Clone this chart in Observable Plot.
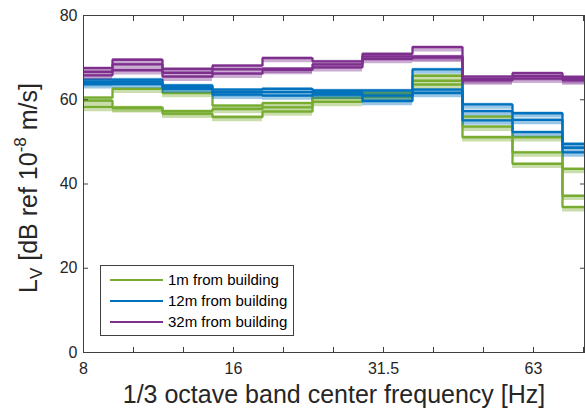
<!DOCTYPE html>
<html>
<head>
<meta charset="utf-8">
<script src="https://cdn.jsdelivr.net/npm/d3@7"></script>
<script src="https://cdn.jsdelivr.net/npm/@observablehq/plot@0.6"></script>
<style>
  body { margin: 0; background: #fff; }
  #wrap { position: relative; width: 585px; height: 418px; font-family: "Liberation Sans", Arial, sans-serif; color: #262626; }
  #ylabel { position: absolute; left: 28px; top: 188px; transform: translate(-50%, -50%) rotate(-90deg); white-space: nowrap; font-size: 25px; line-height: 1; }
  #ylabel sub { font-size: 68%; vertical-align: baseline; position: relative; top: 0.3em; }
  #ylabel sup { font-size: 68%; vertical-align: baseline; position: relative; top: -0.62em; }
  #legend { position: absolute; left: 100px; top: 265px; width: 192px; height: 69px; border: 1px solid #404040; background: #fff; font-size: 15px; color: #000; }
  .lg { position: absolute; left: 9px; width: 53px; height: 2px; }
  .lt { position: absolute; left: 67px; line-height: 1; }
</style>
</head>
<body>
<div id="wrap">
  <div id="chart"></div>
  <div id="ylabel">L<sub>V</sub> [dB ref 10<sup>-8</sup> m/s]</div>
  <div id="legend"></div>
</div>
<script>
// 1/3 octave band centre frequencies (tick labels)
const bandLabels = ["8", "10", "12.5", "16", "20", "25", "31.5", "40", "50", "63", "80"];
const labeledBands = ["8", "16", "31.5", "63"];
const yTicks = [0, 20, 40, 60, 80];
const seriesNames = ["1m from building", "12m from building", "32m from building"];
const xTitle = "1/3 octave band center frequency [Hz]";

// 1 m from building (three measurement lines)
const m1A = [60.5, 62.6, 61.6, 58.6, 59.2, 61.8, 61.6, 65.7, 56.0, 51.1, 43.6];
const m1B = [59.8, 58.0, 57.3, 57.8, 58.2, 60.4, 61.1, 64.5, 53.6, 47.5, 37.2];
const m1C = [58.3, 58.2, 56.7, 55.9, 57.2, 59.5, 60.7, 63.6, 51.1, 44.8, 34.5];
// 12 m from building
const m12A = [64.8, 64.8, 63.4, 62.4, 62.6, 62.2, 62.2, 67.2, 58.9, 56.8, 49.5];
const m12B = [64.2, 64.3, 63.0, 61.8, 61.8, 61.7, 61.0, 61.6, 57.3, 55.2, 48.6];
const m12C = [63.7, 63.8, 62.6, 61.2, 61.0, 61.2, 59.7, 62.4, 55.1, 52.3, 47.5];
// 32 m from building
const m32A = [67.5, 69.5, 67.3, 68.1, 69.9, 69.1, 70.9, 72.5, 65.5, 66.3, 65.4];
const m32B = [66.6, 68.4, 66.4, 67.2, 67.4, 68.4, 70.3, 70.3, 64.9, 65.6, 64.9];
const m32C = [65.8, 67.0, 65.5, 66.2, 67.1, 67.7, 69.7, 70.0, 64.6, 65.0, 64.6];

const colors = ["#77AC30", "#0072BD", "#7E2F8E"];
const seriesData = [[m1A, m1B, m1C], [m12A, m12B, m12C], [m32A, m32B, m32C]];

const lo = -0.42, hi = 0.58; // band edges relative to band index
const idx = d3.range(bandLabels.length);

const marks = [];
seriesData.forEach((lines, k) => {
  // light (translucent) band segments
  const seg = [];
  lines.forEach(arr => arr.forEach((v, i) => seg.push({x1: i + lo, x2: i + hi, v})));
  marks.push(Plot.ruleY(seg, {y: "v", x1: "x1", x2: "x2", stroke: colors[k], strokeOpacity: 0.4, strokeWidth: 6, dy: 1.3, clip: true}));
  // dark step lines
  const rows = [];
  lines.forEach((arr, j) => {
    arr.forEach((v, i) => rows.push({key: j, x: i + lo, y: v}));
    rows.push({key: j, x: arr.length - 1 + hi, y: arr[arr.length - 1]});
  });
  marks.push(Plot.line(rows, {x: "x", y: "y", z: "key", stroke: colors[k], strokeWidth: 2.3, curve: "step-after", strokeLinejoin: "miter", strokeLinecap: "butt", clip: true}));
});

marks.push(
  Plot.frame({stroke: "#404040", strokeWidth: 1}),
  Plot.axisX(idx, {anchor: "bottom", tickSize: -5, tickPadding: 15, fontSize: 16, fill: "#262626", stroke: "#404040",
    tickFormat: i => labeledBands.includes(bandLabels[i]) ? bandLabels[i] : ""}),
  Plot.axisX(idx, {anchor: "top", tickSize: -5, stroke: "#404040", tickFormat: () => ""}),
  Plot.axisY(yTicks, {anchor: "left", tickSize: -5, tickPadding: 11, fontSize: 16, fill: "#262626", stroke: "#404040"}),
  Plot.axisY(yTicks, {anchor: "right", tickSize: -5, stroke: "#404040", tickFormat: () => ""}),
  Plot.text([xTitle], {frameAnchor: "bottom", dy: 50, fontSize: 25, fill: "#262626", text: d => d})
);

const chart = Plot.plot({
  width: 585,
  height: 418,
  marginLeft: 83,
  marginRight: 1,
  marginTop: 15,
  marginBottom: 66,
  x: {type: "linear", domain: [0, 10.02], label: null},
  y: {domain: [0, 80], label: null},
  style: {fontFamily: "'Liberation Sans', Arial, sans-serif", background: "#fff", color: "#262626", overflow: "visible"},
  marks
});
document.getElementById("chart").appendChild(chart);

// legend
const legend = document.getElementById("legend");
const rowTops = [13, 34, 55];
seriesNames.forEach((name, k) => {
  const ln = document.createElement("div");
  ln.className = "lg";
  ln.style.top = rowTops[k] + "px";
  ln.style.background = colors[k];
  legend.appendChild(ln);
  const t = document.createElement("div");
  t.className = "lt";
  t.style.top = (rowTops[k] - 7) + "px";
  t.textContent = name;
  legend.appendChild(t);
});
</script>
</body>
</html>
